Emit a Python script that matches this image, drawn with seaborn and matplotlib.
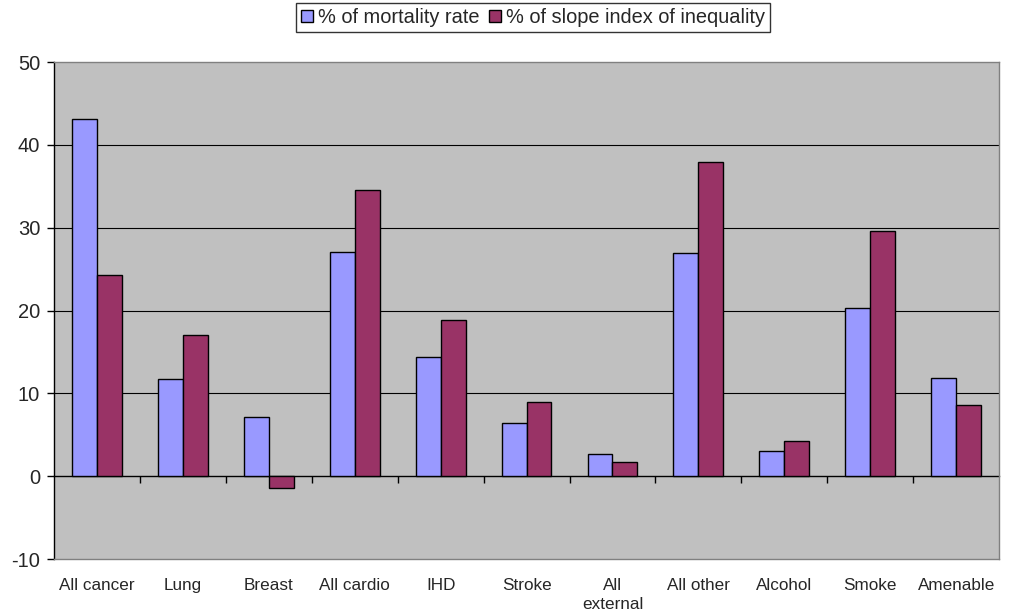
import pandas as pd
import matplotlib
matplotlib.use("Agg")
import matplotlib.pyplot as plt
import seaborn as sns

categories = ["All cancer", "Lung", "Breast", "All cardio", "IHD", "Stroke",
              "All\nexternal", "All other", "Alcohol", "Smoke", "Amenable"]
mortality = [43.1, 11.7, 7.1, 27.1, 14.4, 6.4, 2.7, 27.0, 3.0, 20.3, 11.9]
slope_index = [24.3, 17.0, -1.4, 34.5, 18.9, 9.0, 1.7, 37.9, 4.3, 29.6, 8.6]
series = ["% of mortality rate", "% of slope index of inequality"]
colors = ["#9999FF", "#993366"]

df = pd.DataFrame({
    "category": categories * 2,
    "value": mortality + slope_index,
    "series": [series[0]] * len(categories) + [series[1]] * len(categories),
})

sns.set_style("white")
plt.rcParams["font.family"] = ["Liberation Sans", "DejaVu Sans"]
plt.rcParams["axes.unicode_minus"] = False

fig = plt.figure(figsize=(10.13, 6.15), dpi=100)
ax = fig.add_axes([0.0533, 0.091, 0.933, 0.808])
ax.set_facecolor("#C0C0C0")

sns.barplot(data=df, x="category", y="value", hue="series", hue_order=series,
            palette=colors, width=0.58, edgecolor="black", linewidth=1,
            saturation=1, ax=ax, zorder=3)

ax.set_ylim(-10, 50)
ax.set_xlim(-0.5, len(categories) - 0.5)
ax.set_yticks(range(-10, 51, 10))
for v in range(10, 50, 10):
    ax.axhline(v, color="black", lw=0.8, zorder=1)

ax.set_xlabel("")
ax.set_ylabel("")
ax.tick_params(axis="y", direction="out", length=5, width=1, color="black",
               labelsize=14.5, left=True, pad=5)
ax.tick_params(axis="x", length=0, labelsize=12.3, pad=14)
for lbl in ax.get_xticklabels():
    lbl.set_linespacing(1.3)

for side in ["top", "right", "bottom"]:
    ax.spines[side].set_color("#808080")
    ax.spines[side].set_linewidth(1)
ax.spines["left"].set_color("black")
ax.spines["left"].set_linewidth(1)

# zero line with category separator ticks
sec = ax.secondary_xaxis(0, transform=ax.transData)
sec.set_xticks([i + 0.5 for i in range(len(categories) - 1)])
sec.set_xticklabels([])
sec.tick_params(direction="out", length=5, width=1, color="black")
sec.spines["bottom"].set_color("black")
sec.spines["bottom"].set_linewidth(1)

handles, labels = ax.get_legend_handles_labels()
leg = ax.legend(handles, labels, loc="upper center", bbox_to_anchor=(0.526, 0.995),
                bbox_transform=fig.transFigure, ncol=2, frameon=True, fancybox=False,
                fontsize=14.4, handlelength=0.6, handleheight=0.6, handletextpad=0.25,
                columnspacing=0.45, borderpad=0.25, borderaxespad=0)
leg.get_frame().set_edgecolor("black")
leg.get_frame().set_linewidth(1)

plt.savefig("out.png", dpi=100)
